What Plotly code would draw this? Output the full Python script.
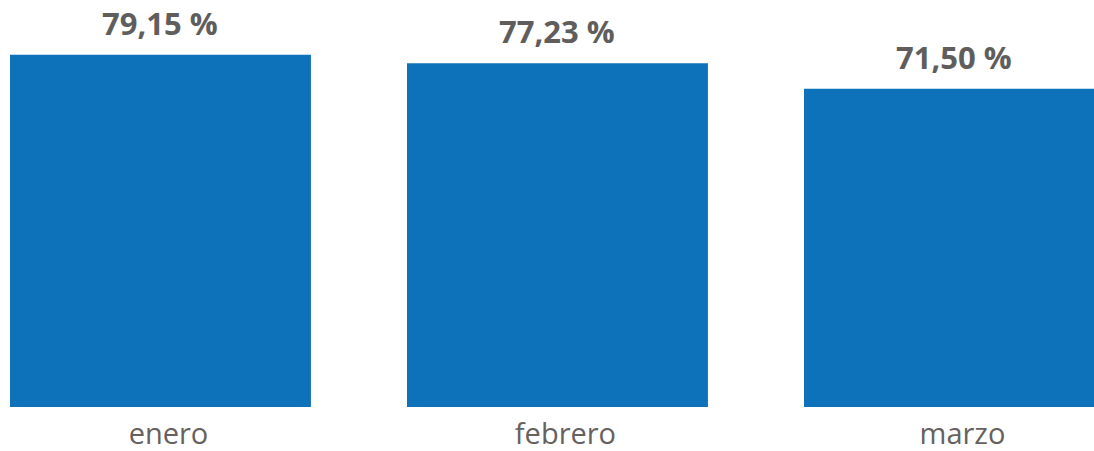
import plotly.graph_objects as go

categories = ["enero", "febrero", "marzo"]
values = [79.15, 77.23, 71.50]
value_labels = ["79,15 %", "77,23 %", "71,50 %"]

bar_color = "#0E72BA"
text_color = "#605E5C"
tick_color = "#66615F"
bargap = 0.242

fig = go.Figure()
fig.add_trace(go.Bar(
    x=categories, y=values, marker=dict(color=bar_color, line=dict(width=0)),
    hoverinfo="skip", cliponaxis=False,
))

for c, v, t in zip(categories, values, value_labels):
    fig.add_annotation(x=c, y=v, text=t, showarrow=False, yanchor="bottom", yshift=9,
                       font=dict(family="Open Sans", size=31, color=text_color, weight="bold"))

half = (1 - bargap) / 2
fig.update_layout(
    width=1094, height=451,
    margin=dict(l=10, r=0, t=0, b=44),
    plot_bgcolor="white", paper_bgcolor="white",
    bargap=bargap,
    showlegend=False,
    xaxis=dict(range=[-half, -half + 1084 / 397.0], showgrid=False, zeroline=False,
               showline=False, ticks="", ticklabelshift=8, ticklabelstandoff=7,
               tickfont=dict(family="Open Sans", size=29, color=tick_color)),
    yaxis=dict(range=[0, 407 / 4.45], visible=False),
)

fig.write_html("out.html", config={"displayModeBar": False},
               post_script="document.body.style.margin='0';document.body.style.overflow='hidden';")
